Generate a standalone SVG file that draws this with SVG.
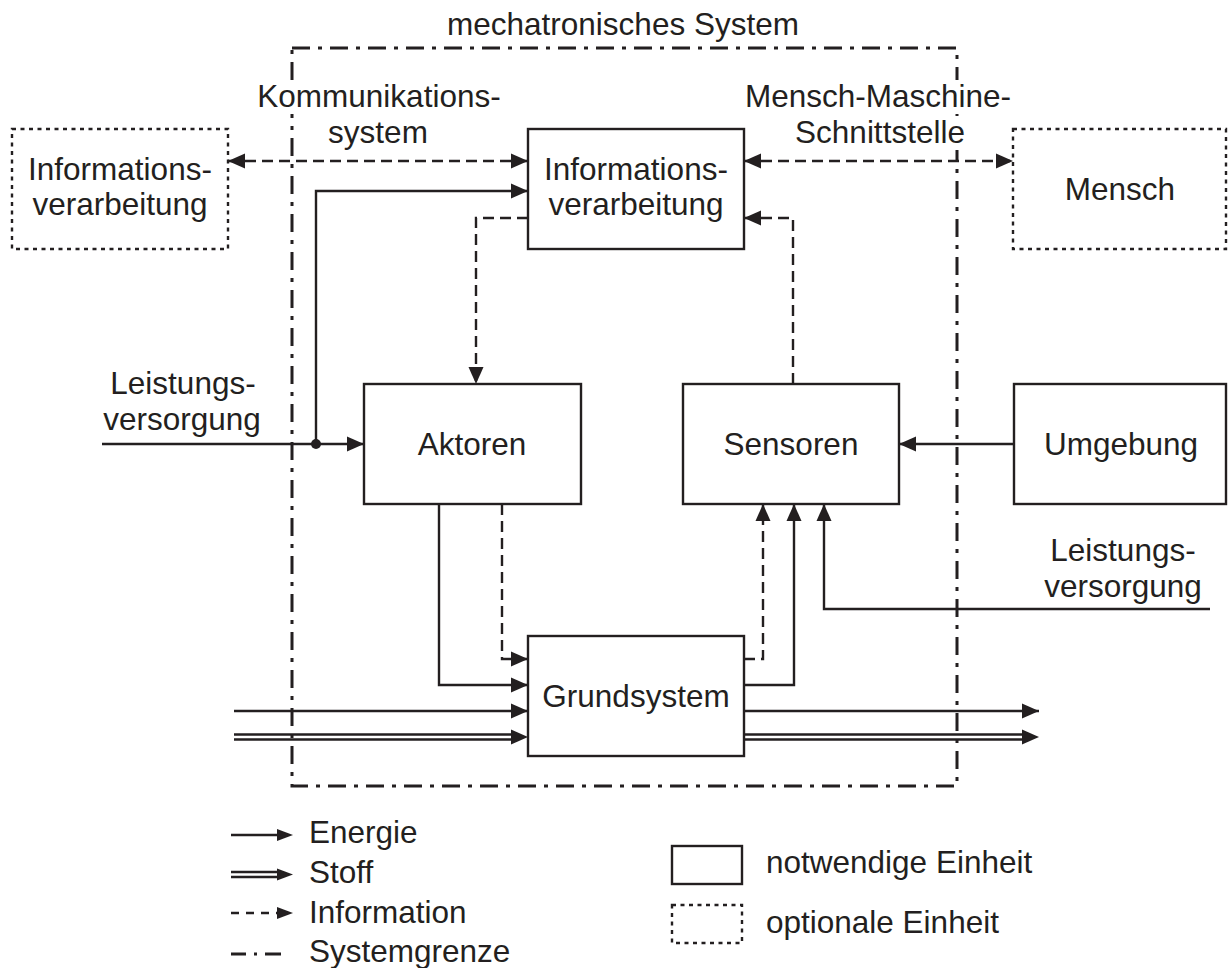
<svg xmlns="http://www.w3.org/2000/svg" width="1229" height="968" viewBox="0 0 1229 968">
  <style>
    text { font-family: "Liberation Sans", Arial, sans-serif; font-size: 31.5px; fill: #231f20; }
    .mid { text-anchor: middle; }
    .box { fill: #ffffff; stroke: #231f20; stroke-width: 2.4; }
    .opt { fill: #ffffff; stroke: #231f20; stroke-width: 2.4; stroke-dasharray: 4 4.5; }
    .line { fill: none; stroke: #231f20; stroke-width: 2.4; }
    .info { fill: none; stroke: #231f20; stroke-width: 2.4; stroke-dasharray: 11 6; }
    .bound { fill: none; stroke: #231f20; stroke-width: 3; stroke-dasharray: 18 8 4 8; }
    .head { fill: #231f20; stroke: none; }
    .bg { fill: #ffffff; stroke: none; }
  </style>
  <defs>
    <marker id="ah" markerUnits="userSpaceOnUse" markerWidth="18" markerHeight="16" refX="17" refY="8" orient="auto-start-reverse">
      <path d="M0,0.5 L17,8 L0,15.5 Z" fill="#231f20"/>
    </marker>
  </defs>

  <!-- system boundary -->
  <g id="systemgrenze">
    <rect class="bound" x="292" y="48" width="665" height="738"/>
    <text class="mid" x="623" y="35">mechatronisches System</text>
  </g>

  <!-- interface labels (cover the boundary where they cross it) -->
  <g id="label-kommunikation">
    <rect class="bg" x="255" y="80" width="248" height="34"/>
    <text class="mid" x="379" y="107">Kommunikations-</text>
    <text class="mid" x="378" y="143">system</text>
  </g>
  <g id="label-mms">
    <rect class="bg" x="744" y="80" width="268" height="34"/>
    <rect class="bg" x="794" y="116" width="172" height="34"/>
    <text class="mid" x="878" y="107">Mensch-Maschine-</text>
    <text class="mid" x="880" y="143">Schnittstelle</text>
  </g>

  <!-- connectors -->
  <g id="connectors">
    <!-- information exchange -->
    <line class="info" x1="228" y1="161" x2="528" y2="161" marker-start="url(#ah)" marker-end="url(#ah)"/>
    <line class="info" x1="744" y1="161" x2="1013" y2="161" marker-start="url(#ah)" marker-end="url(#ah)"/>
    <path class="info" d="M528,218 H476 V384" marker-end="url(#ah)"/>
    <path class="info" d="M793,384 V218 H744" marker-end="url(#ah)"/>
    <path class="info" d="M502,504 V659 H528" marker-end="url(#ah)"/>
    <path class="info" d="M744,659 H763 V504" marker-end="url(#ah)"/>

    <!-- power supply -->
    <line class="line" x1="102" y1="444" x2="364" y2="444" marker-end="url(#ah)"/>
    <path class="line" d="M316,444 V191 H528" marker-end="url(#ah)"/>
    <circle cx="316" cy="444" r="5" fill="#231f20"/>
    <path class="line" d="M1210,609 H824 V504" marker-end="url(#ah)"/>

    <!-- energy -->
    <line class="line" x1="1014" y1="444" x2="899" y2="444" marker-end="url(#ah)"/>
    <path class="line" d="M439,504 V685 H528" marker-end="url(#ah)"/>
    <path class="line" d="M744,685 H794 V504" marker-end="url(#ah)"/>
    <line class="line" x1="234" y1="711" x2="528" y2="711" marker-end="url(#ah)"/>
    <line class="line" x1="744" y1="711" x2="1039" y2="711" marker-end="url(#ah)"/>

    <!-- material flow (double lines) -->
    <line class="line" x1="234" y1="734.5" x2="514" y2="734.5"/>
    <line class="line" x1="234" y1="739.5" x2="514" y2="739.5"/>
    <path class="head" d="M511,729.5 L528,737 L511,744.5 Z"/>
    <line class="line" x1="744" y1="734.5" x2="1025" y2="734.5"/>
    <line class="line" x1="744" y1="739.5" x2="1025" y2="739.5"/>
    <path class="head" d="M1022,729.5 L1039,737 L1022,744.5 Z"/>
  </g>

  <!-- units -->
  <g id="informationsverarbeitung-extern">
    <rect class="opt" x="12" y="129" width="216" height="120"/>
    <text class="mid" x="120" y="180">Informations-</text>
    <text class="mid" x="120" y="215">verarbeitung</text>
  </g>
  <g id="informationsverarbeitung">
    <rect class="box" x="528" y="129" width="216" height="120"/>
    <text class="mid" x="636" y="180">Informations-</text>
    <text class="mid" x="636" y="215">verarbeitung</text>
  </g>
  <g id="mensch">
    <rect class="opt" x="1013" y="129" width="213" height="120"/>
    <text class="mid" x="1120" y="200">Mensch</text>
  </g>
  <g id="leistung-links">
    <text class="mid" x="183" y="394">Leistungs-</text>
    <text class="mid" x="182" y="430">versorgung</text>
  </g>
  <g id="aktoren">
    <rect class="box" x="364" y="384" width="217" height="120"/>
    <text class="mid" x="472" y="455">Aktoren</text>
  </g>
  <g id="sensoren">
    <rect class="box" x="683" y="384" width="216" height="120"/>
    <text class="mid" x="791" y="455">Sensoren</text>
  </g>
  <g id="umgebung">
    <rect class="box" x="1014" y="384" width="212" height="120"/>
    <text class="mid" x="1121" y="455">Umgebung</text>
  </g>
  <g id="leistung-rechts">
    <text class="mid" x="1123" y="561">Leistungs-</text>
    <text class="mid" x="1123" y="597">versorgung</text>
  </g>
  <g id="grundsystem">
    <rect class="box" x="528" y="636" width="216" height="120"/>
    <text class="mid" x="636" y="707">Grundsystem</text>
  </g>

  <!-- legend -->
  <g id="legende">
    <line class="line" x1="231" y1="835" x2="280" y2="835"/>
    <path class="head" d="M277,829 L293,835 L277,841 Z"/>
    <text x="309" y="843">Energie</text>

    <line class="line" x1="231" y1="872" x2="281" y2="872"/>
    <line class="line" x1="231" y1="877" x2="281" y2="877"/>
    <path class="head" d="M277,868.5 L293,874.5 L277,880.5 Z"/>
    <text x="309" y="883">Stoff</text>

    <line fill="none" stroke="#231f20" stroke-width="2.4" stroke-dasharray="8 7" x1="231" y1="913" x2="278" y2="913"/>
    <path class="head" d="M277,907 L293,913 L277,919 Z"/>
    <text x="309" y="923">Information</text>

    <line fill="none" stroke="#231f20" stroke-width="3" stroke-dasharray="15 8 3 8 16" x1="231" y1="954" x2="281" y2="954"/>
    <text x="309" y="962">Systemgrenze</text>

    <rect class="box" x="672" y="846" width="70" height="38"/>
    <text x="766" y="873">notwendige Einheit</text>
    <rect class="opt" x="672" y="905" width="70" height="38"/>
    <text x="766" y="933">optionale Einheit</text>
  </g>
</svg>
